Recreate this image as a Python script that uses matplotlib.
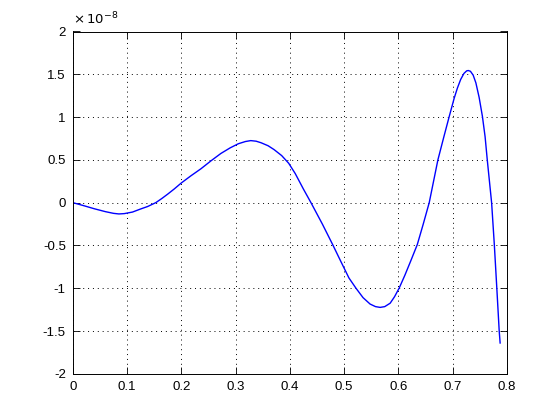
import matplotlib
matplotlib.use('Agg')
import matplotlib.pyplot as plt
from matplotlib.ticker import FormatStrFormatter

# values (y in units of 1e-8)
x = [0.000, 0.020, 0.040, 0.060, 0.075, 0.085, 0.095, 0.110, 0.125, 0.138,
     0.153, 0.164, 0.175, 0.187, 0.200, 0.218, 0.236, 0.255, 0.273, 0.290,
     0.305, 0.318, 0.328, 0.338, 0.347, 0.360, 0.371, 0.385, 0.398, 0.410,
     0.425, 0.439, 0.460, 0.479, 0.494, 0.509, 0.522, 0.535, 0.548, 0.558,
     0.5665, 0.575, 0.585, 0.593, 0.6015, 0.612, 0.623, 0.635, 0.646, 0.657,
     0.665, 0.673, 0.684, 0.694, 0.703, 0.709, 0.715, 0.721, 0.726, 0.729,
     0.733, 0.738, 0.743, 0.749, 0.755, 0.760, 0.764, 0.768, 0.772, 0.777,
     0.7816, 0.786, 0.7877]
y = [0.000, -0.035, -0.072, -0.105, -0.125, -0.132, -0.128, -0.110, -0.074, -0.045,
     0.000, 0.048, 0.100, 0.160, 0.230, 0.315, 0.395, 0.490, 0.575, 0.640,
     0.688, 0.714, 0.725, 0.718, 0.700, 0.665, 0.620, 0.550, 0.460, 0.340,
     0.160, 0.000, -0.250, -0.490, -0.686, -0.880, -1.000, -1.110, -1.185, -1.215,
     -1.224, -1.215, -1.175, -1.100, -1.000, -0.850, -0.680, -0.490, -0.250, 0.000,
     0.250, 0.500, 0.770, 1.010, 1.220, 1.340, 1.440, 1.510, 1.540, 1.544,
     1.535, 1.490, 1.400, 1.230, 1.010, 0.770, 0.500, 0.250, 0.000, -0.490,
     -1.000, -1.500, -1.640]

xticks = [0, 0.1, 0.2, 0.3, 0.4, 0.5, 0.6, 0.7, 0.8]
yticks = [-2, -1.5, -1, -0.5, 0, 0.5, 1, 1.5, 2]

plt.rcParams['font.family'] = ['Liberation Sans', 'DejaVu Sans']

fig = plt.figure(figsize=(5.6, 4.2), dpi=100)
ax = fig.add_axes([0.13, 0.11, 0.775, 0.815])

ax.plot(x, y, color='#0000ff', linewidth=1.0)

ax.set_xlim(0, 0.8)
ax.set_ylim(-2, 2)
ax.set_xticks(xticks)
ax.set_yticks(yticks)
ax.xaxis.set_major_formatter(FormatStrFormatter('%g'))
ax.yaxis.set_major_formatter(FormatStrFormatter('%g'))
ax.tick_params(direction='in', length=5, width=0.6, labelsize=9.5,
               top=True, right=True, pad=5)
ax.grid(True, color='k', linestyle=(0, (1, 4)), linewidth=0.7)
for s in ax.spines.values():
    s.set_linewidth(0.7)

ax.text(0.0, 1.012, r'$\times\,10^{-8}$', transform=ax.transAxes,
        fontsize=9.5, ha='left', va='bottom')

fig.savefig('out.png', dpi=100)
